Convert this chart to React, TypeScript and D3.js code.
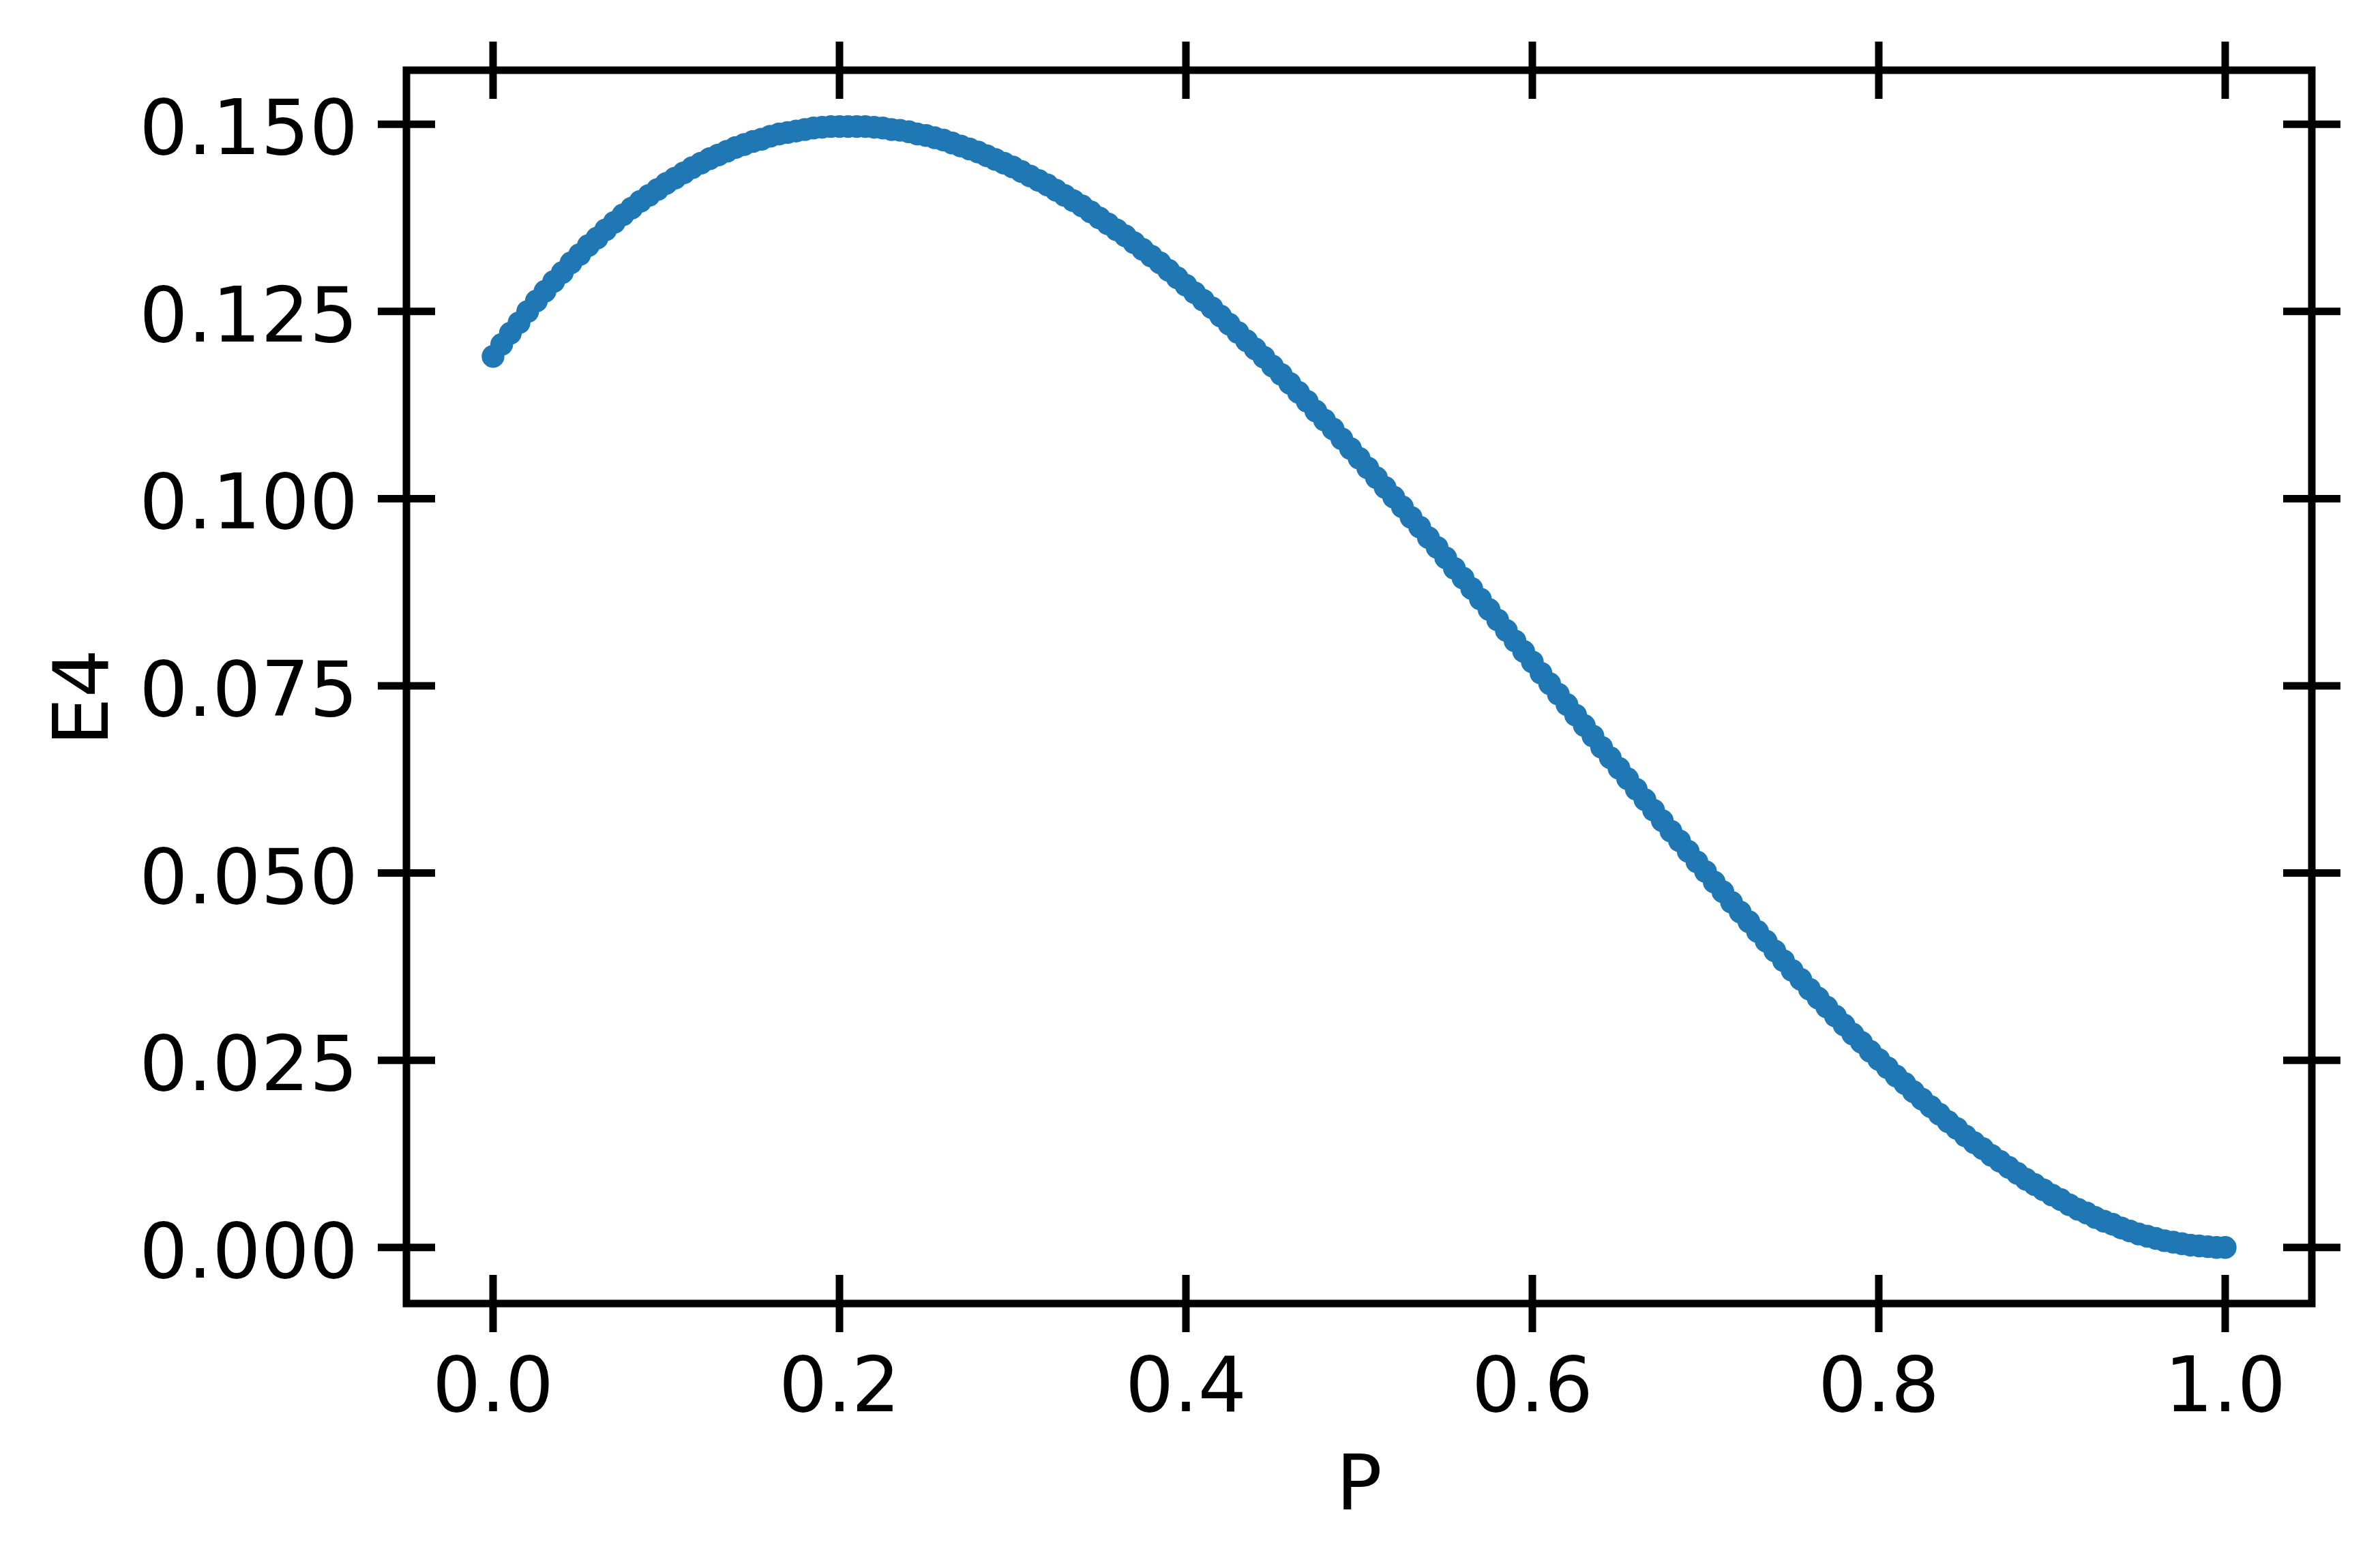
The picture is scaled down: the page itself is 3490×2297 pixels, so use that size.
import React, { useEffect, useRef } from "react";
import * as d3 from "d3";

// P grid (201 points)
const pValues: number[] = [
  0, 0.005, 0.01, 0.015, 0.02, 0.025, 0.03, 0.035, 0.04, 0.045,
  0.05, 0.055, 0.06, 0.065, 0.07, 0.075, 0.08, 0.085, 0.09, 0.095,
  0.1, 0.105, 0.11, 0.115, 0.12, 0.125, 0.13, 0.135, 0.14, 0.145,
  0.15, 0.155, 0.16, 0.165, 0.17, 0.175, 0.18, 0.185, 0.19, 0.195,
  0.2, 0.205, 0.21, 0.215, 0.22, 0.225, 0.23, 0.235, 0.24, 0.245,
  0.25, 0.255, 0.26, 0.265, 0.27, 0.275, 0.28, 0.285, 0.29, 0.295,
  0.3, 0.305, 0.31, 0.315, 0.32, 0.325, 0.33, 0.335, 0.34, 0.345,
  0.35, 0.355, 0.36, 0.365, 0.37, 0.375, 0.38, 0.385, 0.39, 0.395,
  0.4, 0.405, 0.41, 0.415, 0.42, 0.425, 0.43, 0.435, 0.44, 0.445,
  0.45, 0.455, 0.46, 0.465, 0.47, 0.475, 0.48, 0.485, 0.49, 0.495,
  0.5, 0.505, 0.51, 0.515, 0.52, 0.525, 0.53, 0.535, 0.54, 0.545,
  0.55, 0.555, 0.56, 0.565, 0.57, 0.575, 0.58, 0.585, 0.59, 0.595,
  0.6, 0.605, 0.61, 0.615, 0.62, 0.625, 0.63, 0.635, 0.64, 0.645,
  0.65, 0.655, 0.66, 0.665, 0.67, 0.675, 0.68, 0.685, 0.69, 0.695,
  0.7, 0.705, 0.71, 0.715, 0.72, 0.725, 0.73, 0.735, 0.74, 0.745,
  0.75, 0.755, 0.76, 0.765, 0.77, 0.775, 0.78, 0.785, 0.79, 0.795,
  0.8, 0.805, 0.81, 0.815, 0.82, 0.825, 0.83, 0.835, 0.84, 0.845,
  0.85, 0.855, 0.86, 0.865, 0.87, 0.875, 0.88, 0.885, 0.89, 0.895,
  0.9, 0.905, 0.91, 0.915, 0.92, 0.925, 0.93, 0.935, 0.94, 0.945,
  0.95, 0.955, 0.96, 0.965, 0.97, 0.975, 0.98, 0.985, 0.99, 0.995,
  1.0,
];

const e4Values: number[] = [
  0.1190, 0.1206, 0.1221, 0.1235, 0.1250, 0.1264, 0.1277, 0.1290, 0.1302, 0.1315,
  0.1326, 0.1338, 0.1348, 0.1359, 0.1369, 0.1379, 0.1388, 0.1397, 0.1405, 0.1413,
  0.1421, 0.1428, 0.1435, 0.1442, 0.1448, 0.1454, 0.1459, 0.1464, 0.1469, 0.1473,
  0.1477, 0.1480, 0.1484, 0.1487, 0.1489, 0.1491, 0.1493, 0.1495, 0.1496, 0.1497,
  0.1497, 0.1497, 0.1497, 0.1497, 0.1496, 0.1495, 0.1493, 0.1492, 0.1490, 0.1487,
  0.1485, 0.1482, 0.1479, 0.1475, 0.1471, 0.1467, 0.1463, 0.1458, 0.1453, 0.1448,
  0.1443, 0.1437, 0.1431, 0.1425, 0.1419, 0.1412, 0.1405, 0.1398, 0.1391, 0.1383,
  0.1375, 0.1367, 0.1359, 0.1351, 0.1342, 0.1333, 0.1324, 0.1315, 0.1305, 0.1295,
  0.1285, 0.1275, 0.1265, 0.1255, 0.1244, 0.1233, 0.1222, 0.1211, 0.1200, 0.1189,
  0.1177, 0.1166, 0.1154, 0.1142, 0.1130, 0.1117, 0.1105, 0.1093, 0.1080, 0.1067,
  0.1054, 0.1041, 0.1028, 0.1015, 0.1002, 0.0989, 0.0975, 0.0962, 0.0948, 0.0935,
  0.0921, 0.0907, 0.0894, 0.0880, 0.0866, 0.0852, 0.0838, 0.0824, 0.0810, 0.0796,
  0.0782, 0.0767, 0.0753, 0.0739, 0.0725, 0.0711, 0.0697, 0.0683, 0.0668, 0.0654,
  0.0640, 0.0626, 0.0612, 0.0598, 0.0584, 0.0570, 0.0556, 0.0543, 0.0529, 0.0515,
  0.0502, 0.0488, 0.0475, 0.0461, 0.0448, 0.0435, 0.0422, 0.0409, 0.0396, 0.0383,
  0.0370, 0.0358, 0.0345, 0.0333, 0.0321, 0.0309, 0.0297, 0.0285, 0.0274, 0.0262,
  0.0251, 0.0240, 0.0229, 0.0219, 0.0208, 0.0198, 0.0188, 0.0178, 0.0168, 0.0159,
  0.0149, 0.0140, 0.0132, 0.0123, 0.0115, 0.0107, 0.0099, 0.0091, 0.0084, 0.0077,
  0.0070, 0.0064, 0.0057, 0.0051, 0.0046, 0.0040, 0.0035, 0.0031, 0.0026, 0.0022,
  0.0018, 0.0015, 0.0012, 0.0009, 0.0007, 0.0005, 0.0003, 0.0002, 0.0001, 0.0000,
  0.0000,
];

const xTicks = [0, 0.2, 0.4, 0.6, 0.8, 1.0];
const xTickLabels = ["0.0", "0.2", "0.4", "0.6", "0.8", "1.0"];
const yTicks = [0, 0.025, 0.05, 0.075, 0.1, 0.125, 0.15];
const yTickLabels = ["0.000", "0.025", "0.050", "0.075", "0.100", "0.125", "0.150"];

function App() {
  const ref = useRef<SVGSVGElement>(null);

  useEffect(() => {
    const width = 3490;
    const height = 2297;
    const margin = { top: 103, right: 100, bottom: 385, left: 596 };

    const svg = d3.select(ref.current);
    svg.selectAll("*").remove();

    svg.append("rect").attr("width", width).attr("height", height).attr("fill", "white");

    const x = d3.scaleLinear().domain([-0.05, 1.05]).range([margin.left, width - margin.right]);
    const y = d3.scaleLinear().domain([-0.00749, 0.15722]).range([height - margin.bottom, margin.top]);

    const font = "DejaVu Sans, sans-serif";
    const fontSize = 112;
    const tickLen = 42;
    const lw = 11;

    const points = pValues.map((p, i) => ({ p, e: e4Values[i] }));

    // scatter
    svg.append("g")
      .selectAll("circle")
      .data(points)
      .join("circle")
      .attr("cx", d => x(d.p))
      .attr("cy", d => y(d.e))
      .attr("r", 16.7)
      .attr("fill", "#1f77b4");

    const [x0, x1] = x.range();
    const [y0, y1] = y.range();

    // spines
    svg.append("rect")
      .attr("x", x0)
      .attr("y", y1)
      .attr("width", x1 - x0)
      .attr("height", y0 - y1)
      .attr("fill", "none")
      .attr("stroke", "black")
      .attr("stroke-width", lw)
      .attr("stroke-linejoin", "miter");

    const ticks = svg.append("g").attr("stroke", "black").attr("stroke-width", lw);

    // x ticks, bottom + top, in and out
    xTicks.forEach(t => {
      [y0, y1].forEach(yy => {
        ticks.append("line")
          .attr("x1", x(t)).attr("x2", x(t))
          .attr("y1", yy - tickLen).attr("y2", yy + tickLen);
      });
    });
    // y ticks, left + right
    yTicks.forEach(t => {
      [x0, x1].forEach(xx => {
        ticks.append("line")
          .attr("y1", y(t)).attr("y2", y(t))
          .attr("x1", xx - tickLen).attr("x2", xx + tickLen);
      });
    });

    // tick labels
    svg.append("g")
      .selectAll("text")
      .data(xTicks)
      .join("text")
      .attr("x", d => x(d))
      .attr("y", y0 + 158)
      .attr("text-anchor", "middle")
      .style("font-family", font)
      .style("font-size", fontSize + "px")
      .attr("fill", "black")
      .text((d, i) => xTickLabels[i]);

    svg.append("g")
      .selectAll("text")
      .data(yTicks)
      .join("text")
      .attr("x", x0 - 71)
      .attr("y", d => y(d) + 44)
      .attr("text-anchor", "end")
      .style("font-family", font)
      .style("font-size", fontSize + "px")
      .attr("fill", "black")
      .text((d, i) => yTickLabels[i]);

    // axis labels
    svg.append("text")
      .attr("x", (x0 + x1) / 2)
      .attr("y", 2214)
      .attr("text-anchor", "middle")
      .style("font-family", font)
      .style("font-size", fontSize + "px")
      .attr("fill", "black")
      .text("P");

    svg.append("text")
      .attr("transform", `translate(158, 1023) rotate(-90)`)
      .attr("text-anchor", "middle")
      .style("font-family", font)
      .style("font-size", fontSize + "px")
      .attr("fill", "black")
      .text("E4");
  }, []);

  return (
    <svg
      ref={ref}
      width={3490}
      height={2297}
      style={{ position: "absolute", left: 0, top: 0, display: "block" }}
    />
  );
}

export default App;
